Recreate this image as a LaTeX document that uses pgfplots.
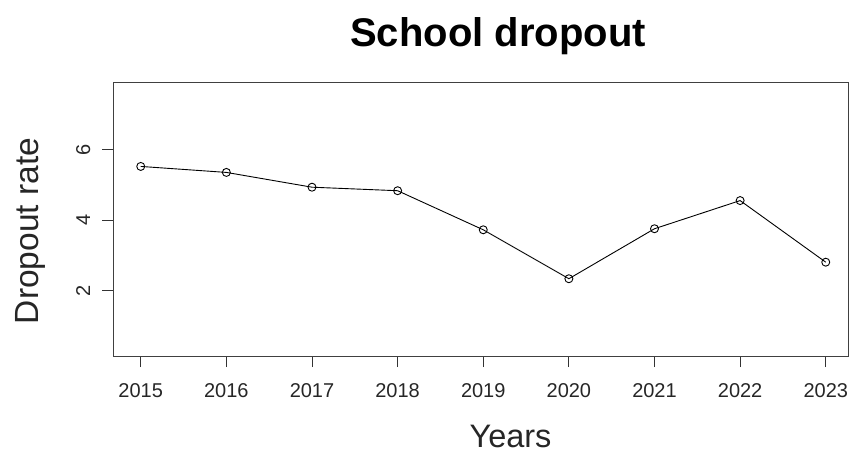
\documentclass[border=0pt]{standalone}
\usepackage{fontspec}
\setmainfont{Liberation Sans}
\usepackage{pgfplots}
\pgfplotsset{compat=1.18}

\begin{document}
\begin{tikzpicture}
  \path[use as bounding box] (0pt,0pt) rectangle (850pt,453pt);
  \begin{axis}[
      at={(113pt,97pt)}, anchor=south west,
      width=735pt, height=273pt, scale only axis,
      xmin=2014.676, xmax=2023.26,
      ymin=0.145, ymax=7.90,
      axis line style={black!75, line width=1pt},
      tick align=outside, major tick length=11pt,
      tick style={black!80, line width=0.9pt},
      xtick pos=left, ytick pos=left,
      xtick={2015,2016,2017,2018,2019,2020,2021,2022,2023},
      xticklabels={2015,2016,2017,2018,2019,2020,2021,2022,2023},
      ytick={2,4,6},
      yticklabels={2,4,6},
      ticklabel style={font=\fontsize{20}{24}\selectfont, text=black!85, inner sep=0pt},
      xticklabel style={anchor=north, yshift=-16pt},
      yticklabel style={rotate=90, anchor=base, yshift=12pt},
      clip=false,
    ]
    \addplot[black, line width=0.9pt, mark=o, mark size=4pt,
             mark options={line width=0.9pt}] coordinates {
      (2015,5.53)
      (2016,5.36)
      (2017,4.94)
      (2018,4.84)
      (2019,3.73)
      (2020,2.34)
      (2021,3.76)
      (2022,4.56)
      (2023,2.81)
    };
  \end{axis}
  % titles
  \node[anchor=base, font=\fontsize{40}{48}\selectfont\bfseries] at (498pt,406pt) {School dropout};
  \node[anchor=base, font=\fontsize{32.5}{39}\selectfont, text=black!85] at (510.5pt,6pt) {Years};
  \node[anchor=base, rotate=90, font=\fontsize{33.5}{40}\selectfont, text=black!85] at (38.6pt,222pt) {Dropout rate};
\end{tikzpicture}
\end{document}
